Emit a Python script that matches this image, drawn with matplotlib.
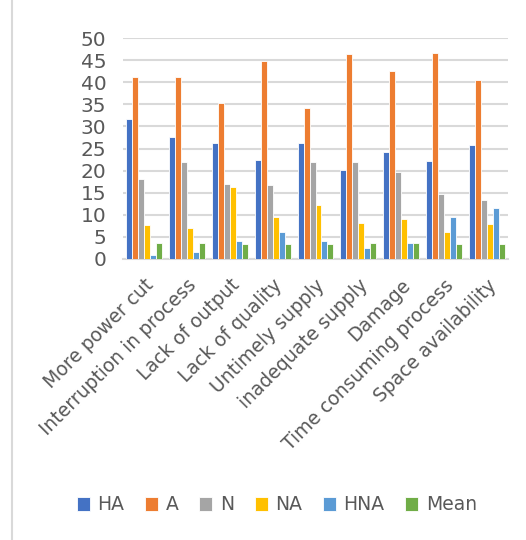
import numpy as np
import matplotlib
matplotlib.use("Agg")
from matplotlib import pyplot as plt

categories = ["More power cut", "Interruption in process", "Lack of output",
              "Lack of quality", "Untimely supply", "inadequate supply",
              "Damage", "Time consuming process", "Space availability"]

ha = [31.6, 27.5, 26.3, 22.5, 26.3, 20.2, 24.3, 22.2, 25.7]
a = [41.1, 41.1, 35.4, 44.7, 34.1, 46.4, 42.6, 46.7, 40.6]
n = [18.1, 21.9, 17.0, 16.8, 21.9, 21.9, 19.6, 14.6, 13.4]
na = [7.7, 7.1, 16.2, 9.4, 12.3, 8.2, 9.0, 6.1, 7.9]
hna = [0.9, 1.6, 4.1, 6.1, 4.1, 2.4, 3.6, 9.4, 11.5]
mean = [3.6, 3.6, 3.3, 3.3, 3.3, 3.6, 3.6, 3.3, 3.3]

series = [("HA", ha, "#4472C4"), ("A", a, "#ED7D31"), ("N", n, "#A5A5A5"),
          ("NA", na, "#FFC000"), ("HNA", hna, "#5B9BD5"), ("Mean", mean, "#70AD47")]

txt = "#595959"
fig = plt.figure(figsize=(5.26, 5.4), dpi=100)
ax = fig.add_axes([123 / 526, 1 - 259 / 540, 385 / 526, 221 / 540])

x = np.arange(len(categories))
w = 0.14
for i, (name, vals, col) in enumerate(series):
    ax.bar(x + (i - 2.5) * w, vals, w, color=col, label=name,
           edgecolor="white", linewidth=0.6, zorder=3)

ax.set_xlim(-0.5, len(categories) - 0.5)
ax.set_ylim(0, 50)
ax.set_yticks(range(0, 51, 5))
ax.yaxis.grid(True, color="#D9D9D9", linewidth=1.5, zorder=0)
for s in ["top", "right", "left"]:
    ax.spines[s].set_visible(False)
ax.spines["bottom"].set_color("#D9D9D9")
ax.spines["bottom"].set_linewidth(1.5)
ax.tick_params(axis="both", length=0, colors=txt)
ax.tick_params(axis="y", labelsize=14.5, pad=12)
ax.tick_params(axis="x", pad=12)
ax.set_xticks(x)
ax.set_xticklabels(categories, rotation=45, ha="right", rotation_mode="anchor",
                   fontsize=13.5, color=txt)

ax.legend(loc="center", bbox_to_anchor=(277 / 526, 1 - 505 / 540),
          bbox_transform=fig.transFigure, ncol=6, frameon=False, fontsize=13.5,
          handlelength=0.7, handleheight=0.7, columnspacing=1.1, handletextpad=0.4,
          labelcolor=txt)

# left border of the chart frame
fig.add_artist(plt.Line2D([12 / 526, 12 / 526], [0, 1], color="#D9D9D9", linewidth=1.5))

fig.savefig("out.png", dpi=100)
